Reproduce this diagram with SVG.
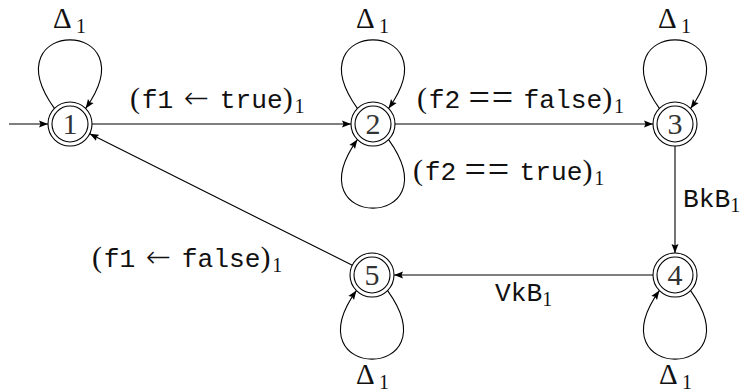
<svg xmlns="http://www.w3.org/2000/svg" width="742" height="392" viewBox="0 0 742 392">
<style>
.o{fill:#fff;stroke:#000;stroke-width:1.1}
.i{fill:none;stroke:#000;stroke-width:1.1}
.n{font-family:"Liberation Serif",serif;font-size:30px;fill:#333;text-anchor:middle}
.e{fill:none;stroke:#000;stroke-width:1.1}
.l{font-family:"Liberation Serif",serif;font-size:30px;fill:#111}
.tt{font-family:"Liberation Mono",monospace;font-size:26.25px}
.ar{font-family:"DejaVu Sans",sans-serif;font-size:30px;font-weight:200}
.eq{font-family:"Liberation Serif",serif;font-size:38px}
.s{font-family:"Liberation Serif",serif;font-size:20px}
.d{font-family:"Liberation Serif",serif;font-size:29px}
.dl{font-family:"Liberation Serif",serif;font-size:20px;fill:#111}
</style>
<defs>
<marker id="a" markerWidth="10" markerHeight="8" refX="9" refY="4" orient="auto" markerUnits="userSpaceOnUse">
<path d="M0,0.5 L9,4 L0,7.5 L1.5,4 z" fill="#000"/>
</marker>
</defs>
<g id="connectors">
<line class="e" x1="9" y1="124" x2="48" y2="124" marker-end="url(#a)"/>
<path class="e" d="M54.4,108.4 C-11,17 151,17 85.6,108.4" marker-end="url(#a)"/>
<line class="e" x1="92" y1="124" x2="351" y2="124" marker-end="url(#a)"/>
<path class="e" d="M357.4,108.4 C292,17 454,17 388.6,108.4" marker-end="url(#a)"/>
<path class="e" d="M388.6,139.6 C454,231 292,231 357.4,139.6" marker-end="url(#a)"/>
<line class="e" x1="395" y1="124" x2="653" y2="124" marker-end="url(#a)"/>
<path class="e" d="M659.4,108.4 C594,17 756,17 690.6,108.4" marker-end="url(#a)"/>
<line class="e" x1="675" y1="146" x2="675" y2="253" marker-end="url(#a)"/>
<path class="e" d="M690.6,290.6 C756,382 594,382 659.4,290.6" marker-end="url(#a)"/>
<line class="e" x1="653" y1="275" x2="394" y2="275" marker-end="url(#a)"/>
<path class="e" d="M387.6,290.6 C453,382 291,382 356.4,290.6" marker-end="url(#a)"/>
<line class="e" x1="352.3" y1="265.2" x2="89.7" y2="133.8" marker-end="url(#a)"/>
</g>
<g id="labels">
<text class="l" y="108"><tspan x="130">(</tspan><tspan class="tt" x="141.7">f1</tspan><tspan class="ar" x="184">←</tspan><tspan class="tt" x="219.8">true</tspan><tspan x="282.8">)</tspan><tspan class="s" x="294.5" y="113">1</tspan></text>
<text class="l" y="108"><tspan x="417">(</tspan><tspan class="tt" x="428.7">f2</tspan><tspan class="eq" x="468.5" y="110">=</tspan><tspan class="eq" x="491.8" y="110">=</tspan><tspan class="tt" x="523.5" y="108">false</tspan><tspan x="602.3">)</tspan><tspan class="s" x="614" y="113">1</tspan></text>
<text class="l" y="180"><tspan x="413">(</tspan><tspan class="tt" x="424.7">f2</tspan><tspan class="eq" x="464.5" y="182">=</tspan><tspan class="eq" x="487.8" y="182">=</tspan><tspan class="tt" x="519.5" y="180">true</tspan><tspan x="582.5">)</tspan><tspan class="s" x="594.2" y="185">1</tspan></text>
<text class="l" y="207"><tspan class="tt" x="683">BkB</tspan><tspan class="s" x="730.3" y="212">1</tspan></text>
<text class="l" y="301"><tspan class="tt" x="495">VkB</tspan><tspan class="s" x="542.3" y="306">1</tspan></text>
<text class="l" y="267"><tspan x="92">(</tspan><tspan class="tt" x="103.7">f1</tspan><tspan class="ar" x="146">←</tspan><tspan class="tt" x="181.8">false</tspan><tspan x="260.6">)</tspan><tspan class="s" x="272.3" y="272">1</tspan></text>
<text class="dl" y="28"><tspan class="d" x="53">Δ</tspan><tspan x="76" y="33">1</tspan></text>
<text class="dl" y="28"><tspan class="d" x="356">Δ</tspan><tspan x="379" y="33">1</tspan></text>
<text class="dl" y="28"><tspan class="d" x="658">Δ</tspan><tspan x="681" y="33">1</tspan></text>
<text class="dl" y="384"><tspan class="d" x="659">Δ</tspan><tspan x="682" y="389">1</tspan></text>
<text class="dl" y="384"><tspan class="d" x="356">Δ</tspan><tspan x="379" y="389">1</tspan></text>
</g>
<g id="n1"><circle class="o" cx="70" cy="124" r="22"/><circle class="i" cx="70" cy="124" r="18"/><text class="n" x="70" y="134">1</text></g>
<g id="n2"><circle class="o" cx="373" cy="124" r="22"/><circle class="i" cx="373" cy="124" r="18"/><text class="n" x="373" y="134">2</text></g>
<g id="n3"><circle class="o" cx="675" cy="124" r="22"/><circle class="i" cx="675" cy="124" r="18"/><text class="n" x="675" y="134">3</text></g>
<g id="n4"><circle class="o" cx="675" cy="275" r="22"/><circle class="i" cx="675" cy="275" r="18"/><text class="n" x="675" y="285">4</text></g>
<g id="n5"><circle class="o" cx="372" cy="275" r="22"/><circle class="i" cx="372" cy="275" r="18"/><text class="n" x="372" y="285">5</text></g>
</svg>
